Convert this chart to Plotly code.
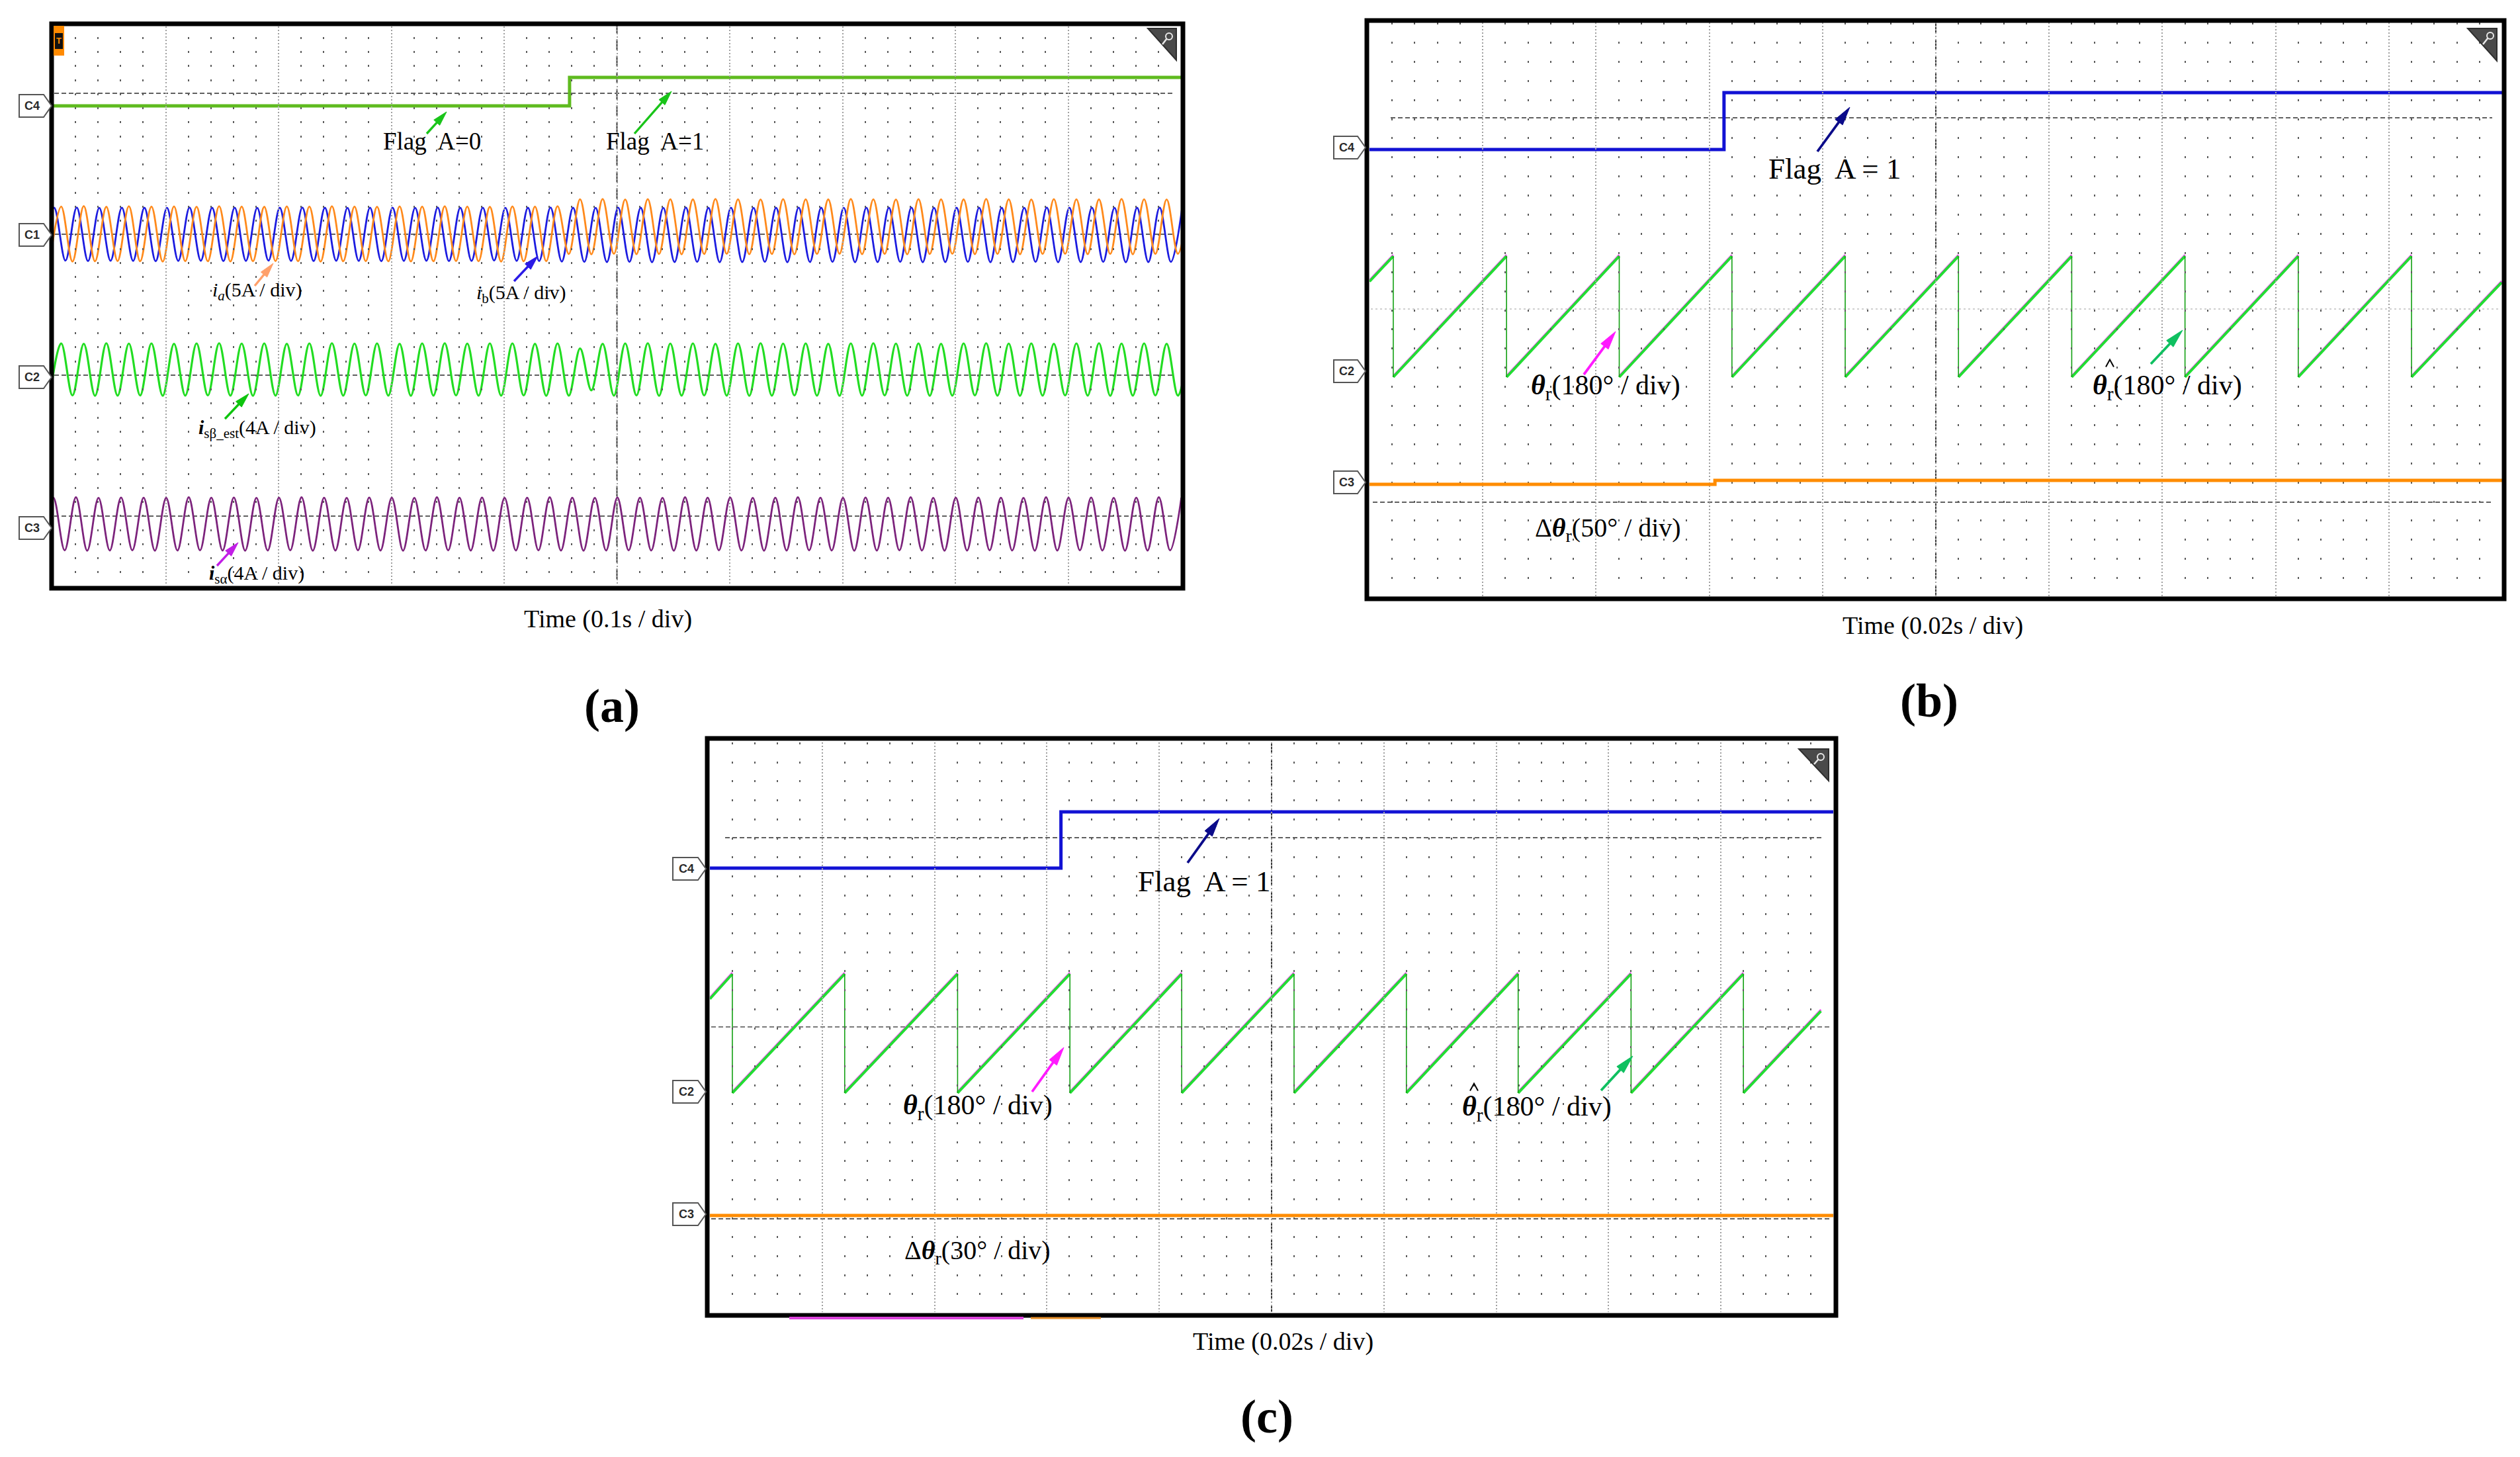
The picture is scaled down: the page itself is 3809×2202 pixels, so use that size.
import math
import plotly.graph_objects as go

W, H = 3809, 2202

# ======================= DATA =======================
# ---- Panel (a): time in seconds, 0.1 s/div ----
a_flag_t = [0.0, 0.458, 1.0]          # Flag A (C4), step 0 -> 1
a_flag_v = [0, 1, 1]

# successive extremum values (trough, peak, ...) of each 50 Hz current, one every 0.01 s
a_ia_t0 = -0.00267                    # C1 orange, i_a (A)
a_ia_ext = [
    -1.88, 2.02, -1.90, 2.05, -1.88, 2.00, -1.86, 2.04, -1.88, 2.02,
    -1.90, 2.03, -1.87, 2.01, -1.88, 2.04, -1.89, 2.02, -1.88, 2.00,
    -1.86, 2.03, -1.88, 2.02, -1.90, 2.04, -1.88, 2.02, -1.87, 2.01,
    -1.88, 2.03, -1.89, 2.02, -1.88, 2.04, -1.86, 2.02, -1.88, 2.00,
    -1.90, 2.03, -1.88, 2.02, -1.87, 2.04,
    -1.36, 2.54, -1.38, 2.56, -1.35, 2.52, -1.37, 2.55, -1.36, 2.54,
    -1.38, 2.53, -1.36, 2.56, -1.35, 2.54, -1.37, 2.52, -1.36, 2.55,
    -1.38, 2.54, -1.36, 2.53, -1.35, 2.56, -1.37, 2.54, -1.36, 2.52,
    -1.38, 2.55, -1.36, 2.54, -1.35, 2.53, -1.37, 2.56, -1.36, 2.54,
    -1.38, 2.52, -1.36, 2.55, -1.35, 2.54, -1.37, 2.53, -1.36, 2.56,
    -1.38, 2.54, -1.36, 2.52, -1.35, 2.55,
]
a_ib_t0 = -0.0089                     # C1 blue, i_b (A)
a_ib_ext = [
    -1.85, 1.93, -1.83, 1.95, -1.86, 1.92, -1.84, 1.94, -1.85, 1.93,
    -1.87, 1.92, -1.85, 1.95, -1.84, 1.93, -1.86, 1.94, -1.85, 1.92,
    -1.83, 1.93, -1.85, 1.95, -1.86, 1.93, -1.84, 1.92, -1.85, 1.94,
    -1.87, 1.93, -1.85, 1.92, -1.84, 1.95, -1.86, 1.93, -1.85, 1.94,
    -1.83, 1.92, -1.85, 1.93, -1.86, 1.95, -1.90, 1.93, -1.92, 1.92,
    -1.93, 1.94, -1.92, 1.93, -1.94, 1.92, -1.93, 1.95, -1.92, 1.93,
    -1.94, 1.94, -1.93, 1.92, -1.92, 1.93, -1.94, 1.95, -1.93, 1.93,
    -1.92, 1.92, -1.94, 1.94, -1.93, 1.93, -1.92, 1.95, -1.94, 1.92,
    -1.93, 1.93, -1.92, 1.94, -1.94, 1.93, -1.93, 1.92, -1.92, 1.95,
    -1.94, 1.93, -1.93, 1.94, -1.92, 1.92, -1.94, 1.93, -1.93, 1.95,
    -1.92, 1.93,
]
a_isb_t0 = -0.00267                   # C2 green, i_sbeta_est (A)
a_isb_ext = [
    -1.05, 1.92, -1.04, 1.90, -1.06, 1.93, -1.05, 1.91, -1.04, 1.92,
    -1.06, 1.90, -1.05, 1.92, -1.04, 1.93, -1.05, 1.91, -1.06, 1.92,
    -1.05, 1.90, -1.04, 1.92, -1.06, 1.93, -1.05, 1.91, -1.04, 1.92,
    -1.05, 1.90, -1.06, 1.92, -1.05, 1.93, -1.04, 1.91, -1.05, 1.92,
    -1.05, 1.92, -1.04, 1.90, -1.06, 1.92, -1.05, 1.63, -0.75, 1.90,
    -1.05, 1.92, -1.04, 1.93, -1.06, 1.91, -1.05, 1.92, -1.04, 1.90,
    -1.05, 1.92, -1.06, 1.93, -1.05, 1.91, -1.04, 1.92, -1.05, 1.90,
    -1.06, 1.92, -1.05, 1.93, -1.04, 1.91, -1.05, 1.92, -1.06, 1.90,
    -1.05, 1.92, -1.04, 1.93, -1.05, 1.91, -1.06, 1.92, -1.05, 1.90,
    -1.04, 1.92, -1.05, 1.93, -1.06, 1.91, -1.05, 1.92, -1.04, 1.90,
    -1.05, 1.92,
]
a_isa_t0 = -0.0096                    # C3 purple, i_salpha (A)
a_isa_ext = [
    -1.28, 1.73, -1.27, 1.75, -1.29, 1.72, -1.28, 1.74, -1.27, 1.73,
    -1.29, 1.72, -1.28, 1.75, -1.27, 1.73, -1.28, 1.74, -1.29, 1.72,
    -1.28, 1.73, -1.27, 1.75, -1.29, 1.73, -1.28, 1.72, -1.27, 1.74,
    -1.28, 1.73, -1.29, 1.72, -1.28, 1.75, -1.27, 1.73, -1.28, 1.74,
    -1.29, 1.72, -1.28, 1.73, -1.27, 1.75, -1.28, 1.73, -1.29, 1.72,
    -1.28, 1.74, -1.27, 1.73, -1.28, 1.72, -1.29, 1.75, -1.28, 1.73,
    -1.27, 1.74, -1.28, 1.72, -1.29, 1.73, -1.28, 1.75, -1.27, 1.73,
    -1.28, 1.72, -1.29, 1.74, -1.28, 1.73, -1.27, 1.75, -1.28, 1.72,
    -1.29, 1.73, -1.28, 1.74, -1.27, 1.73, -1.28, 1.72, -1.29, 1.75,
    -1.28, 1.73, -1.27, 1.74, -1.28, 1.72, -1.29, 1.73, -1.28, 1.75,
    -1.27, 1.73,
]
a_ext_dt = 0.01                       # s between successive extrema

# ---- Panel (b): time in seconds, 0.02 s/div ----
b_flag_t = [0.0, 0.0626, 0.2]
b_flag_v = [0, 1, 1]
b_resets = [0.0042, 0.0242, 0.0441, 0.0640, 0.0840, 0.1040, 0.1240, 0.1440, 0.1640, 0.1840]
b_end_t = 0.1999
b_est_top, b_est_bottom, b_est_start, b_est_end = 216.7, -11.2, 169.0, 167.0   # theta_hat (deg)
b_th_top, b_th_bottom, b_th_start, b_th_end = 219.0, -9.0, 171.5, 169.5        # theta (deg)
b_dth_t = [0.0, 0.061, 0.2]           # delta theta (deg)
b_dth_v = [-1.0, 1.0, 1.0]

# ---- Panel (c): time in seconds, 0.02 s/div ----
c_flag_t = [0.0, 0.0625, 0.2]
c_flag_v = [0, 1, 1]
c_resets = [0.0040, 0.0240, 0.0441, 0.0641, 0.0840, 0.1040, 0.1240, 0.1439, 0.1640, 0.1840]
c_end_t = 0.1978
c_est_top, c_est_bottom, c_est_start, c_est_end = 223.3, -2.5, 176.0, 153.0
c_th_top, c_th_bottom, c_th_start, c_th_end = 225.8, 0.0, 178.5, 155.5
c_dth_t = [0.0, 0.2]
c_dth_v = [-0.2, -0.2]

# ======================= LAYOUT GEOMETRY (pixels) =======================
PANELS = {
    'a': dict(s='', x0=80, x1=1785, y0=34.5, y1=884.5, ndiv=8, tdiv=0.1),
    'b': dict(s='2', x0=2070, x1=3782, y0=34, y1=901, ndiv=6, tdiv=0.02),
    'c': dict(s='3', x0=1073, x1=2771, y0=1122, y1=1983, ndiv=6, tdiv=0.02),
}
# channel: (panel, axis number, zero-level pixel, units per division)
CHANNELS = {
    'a4': ('a', 4, 160, 106.25 / 43.0),
    'a1': ('a', 5, 355, 5.0),
    'a2': ('a', 6, 570, 4.0),
    'a3': ('a', 7, 798, 4.0),
    'b4': ('b', 8, 226, 144.5 / 86.0),
    'b2': ('b', 9, 561, 180.0),
    'b3': ('b', 10, 729, 50.0),
    'c4': ('c', 11, 1312, 143.5 / 85.0),
    'c2': ('c', 12, 1650, 180.0),
    'c3': ('c', 13, 1836, 30.0),
}

SERIF = "Liberation Serif, Times New Roman, serif"
SANS = "Liberation Sans, Arial, sans-serif"


def px(x):
    return x / W


def py(y):
    return 1 - y / H


layout = dict(width=W, height=H, autosize=False, margin=dict(l=0, r=0, t=0, b=0),
              paper_bgcolor='white', plot_bgcolor='rgba(0,0,0,0)', showlegend=False)

for key, p in PANELS.items():
    s = p['s']
    divy = (p['y1'] - p['y0']) / p['ndiv']
    minor_gap = divy / 5.0 - 3
    layout['xaxis' + s] = dict(
        domain=[px(p['x0']), px(p['x1'])], range=[0, 10 * p['tdiv']], anchor='y' + s,
        showticklabels=False, ticks='', showline=False, zeroline=False, fixedrange=True,
        showgrid=True, tick0=0, dtick=p['tdiv'], gridcolor='#a0a0a0', gridwidth=1.5,
        griddash='2px,3px',
        minor=dict(tick0=0, dtick=p['tdiv'] / 5, showgrid=True, gridcolor='#5a5a5a',
                   gridwidth=2.2, griddash='3px,%.2fpx' % minor_gap))
    layout['yaxis' + s] = dict(
        domain=[py(p['y1']), py(p['y0'])], range=[0, p['ndiv']], anchor='x' + s,
        showticklabels=False, ticks='', showline=False, zeroline=False, fixedrange=True,
        showgrid=True, tick0=0, dtick=2, gridcolor='#858585', gridwidth=4)

for ck, (pk, num, zero, upd) in CHANNELS.items():
    p = PANELS[pk]
    divy = (p['y1'] - p['y0']) / p['ndiv']
    ppu = divy / upd
    lo = (zero - p['y1']) / ppu
    hi = (zero - p['y0']) / ppu
    layout['yaxis%d' % num] = dict(domain=[py(p['y1']), py(p['y0'])], range=[lo, hi],
                                   overlaying='y' + p['s'], anchor='x' + p['s'],
                                   visible=False, showgrid=False, zeroline=False, fixedrange=True)

fig = go.Figure()


def add(ch, **kw):
    pk, num, _, _ = CHANNELS[ch]
    fig.add_trace(go.Scatter(xaxis='x' + PANELS[pk]['s'], yaxis='y%d' % num, mode='lines',
                             hoverinfo='skip', showlegend=False, **kw))


def saw_ramps(resets, t_end, top, bottom, v_start, v_end):
    xs, ys = [0.0], [v_start]
    for r in resets:
        xs += [r, None, r]
        ys += [top, None, bottom]
    xs.append(t_end)
    ys.append(v_end)
    return xs, ys


def saw_drops(resets, top, bottom):
    xs, ys = [], []
    for r in resets:
        xs += [r, r, None]
        ys += [top, bottom, None]
    return xs, ys


# ---- panel (a) traces ----
add('a4', x=a_flag_t, y=a_flag_v, line=dict(color='#5fbb1f', width=5, shape='hv'))
add('a1', x0=a_ib_t0, dx=a_ext_dt, y=a_ib_ext, line=dict(color='#1c1ce0', width=2.8, shape='spline'))
add('a1', x0=a_ia_t0, dx=a_ext_dt, y=a_ia_ext, line=dict(color='#ff8a1c', width=2.8, shape='spline'))
add('a2', x0=a_isb_t0, dx=a_ext_dt, y=a_isb_ext, line=dict(color='#22dd22', width=3.2, shape='spline'))
add('a3', x0=a_isa_t0, dx=a_ext_dt, y=a_isa_ext, line=dict(color='#7c237c', width=2.8, shape='spline'))

# ---- panel (b) traces ----
add('b4', x=b_flag_t, y=b_flag_v, line=dict(color='#1212d4', width=5, shape='hv'))
xs, ys = saw_ramps(b_resets, b_end_t, b_th_top, b_th_bottom, b_th_start, b_th_end)
add('b2', x=xs, y=ys, line=dict(color='#ff40ff', width=3))
xs, ys = saw_ramps(b_resets, b_end_t, b_est_top, b_est_bottom, b_est_start, b_est_end)
add('b2', x=xs, y=ys, line=dict(color='#22dd33', width=4))
xs, ys = saw_drops(b_resets, b_est_top, b_est_bottom)
add('b2', x=xs, y=ys, line=dict(color='#12a012', width=1.6))
add('b3', x=b_dth_t, y=b_dth_v, line=dict(color='#ff8c00', width=5, shape='hv'))

# ---- panel (c) traces ----
add('c4', x=c_flag_t, y=c_flag_v, line=dict(color='#1212d4', width=5, shape='hv'))
xs, ys = saw_ramps(c_resets, c_end_t, c_th_top, c_th_bottom, c_th_start, c_th_end)
add('c2', x=xs, y=ys, line=dict(color='#ff40ff', width=3))
xs, ys = saw_ramps(c_resets, c_end_t, c_est_top, c_est_bottom, c_est_start, c_est_end)
add('c2', x=xs, y=ys, line=dict(color='#22dd33', width=4))
xs, ys = saw_drops(c_resets, c_est_top, c_est_bottom)
add('c2', x=xs, y=ys, line=dict(color='#12a012', width=1.6))
add('c3', x=c_dth_t, y=c_dth_v, line=dict(color='#ff8c00', width=5, shape='hv'))

# ======================= SHAPES =======================
shapes = []


def hline(y, xa, xb, color, width, dash='solid', layer='below'):
    shapes.append(dict(type='line', xref='paper', yref='paper', x0=px(xa), x1=px(xb),
                       y0=py(y), y1=py(y), line=dict(color=color, width=width, dash=dash), layer=layer))


def vline(x, ya, yb, color, width, dash='solid', layer='below'):
    shapes.append(dict(type='line', xref='paper', yref='paper', x0=px(x), x1=px(x),
                       y0=py(ya), y1=py(yb), line=dict(color=color, width=width, dash=dash), layer=layer))


def path(pts, close=True):
    s = 'M ' + ' L '.join('%.6f,%.6f' % (px(x), py(y)) for x, y in pts)
    return s + (' Z' if close else '')


# cursor (centre) long-dash lines
for p in PANELS.values():
    xc = p['x0'] + (p['x1'] - p['x0']) / 2
    vline(xc, p['y0'], p['y1'], '#3a3a3a', 2, '16px,9px')

# channel reference dashed lines
for y in (141, 354, 567, 780):
    hline(y, 82, 1773, '#606060', 2.2, '7px,4px')
hline(178, 2102, 3767, '#606060', 2.2, '7px,4px')
hline(467, 2072, 3780, '#cfcfcf', 2, '3px,4px')
hline(759, 2075, 3767, '#606060', 2.2, '7px,4px')
hline(1266, 1096, 2757, '#606060', 2.2, '7px,4px')
hline(1552, 1075, 2769, '#7a7a7a', 2.2, '7px,4px')
hline(1842, 1075, 2769, '#606060', 2.2, '7px,4px')

# frames
for (xa, ya, xb, yb) in ((78, 36, 1788, 889), (2066, 31, 3785, 905), (1069, 1116, 2775, 1988)):
    shapes.append(dict(type='rect', xref='paper', yref='paper', x0=px(xa), x1=px(xb),
                       y0=py(yb), y1=py(ya), line=dict(color='black', width=7), layer='above'))

# bottom colored bars of panel (c)
hline(1992, 1193, 1547, '#dd44dd', 4, layer='above')
hline(1992, 1558, 1664, '#e8902a', 3, layer='above')

# channel tags
TAGS = [('C4', 29, 78, 160), ('C1', 29, 78, 355), ('C2', 29, 78, 570), ('C3', 29, 78, 798),
        ('C4', 2016, 2064, 223), ('C2', 2016, 2064, 561), ('C3', 2016, 2064, 729),
        ('C4', 1017, 1067, 1313), ('C2', 1017, 1067, 1650), ('C3', 1017, 1067, 1835)]
annotations = []
for name, xl, xr, yc in TAGS:
    h = 34
    pts = [(xl, yc - h / 2), (xr - 12, yc - h / 2), (xr, yc), (xr - 12, yc + h / 2), (xl, yc + h / 2)]
    shapes.append(dict(type='path', xref='paper', yref='paper', path=path(pts),
                       line=dict(color='#555555', width=2), fillcolor='white', layer='above'))
    annotations.append(dict(x=px((xl + xr - 12) / 2 + 1), y=py(yc), xref='paper', yref='paper',
                            text='<b>%s</b>' % name, showarrow=False,
                            font=dict(family=SANS, size=18, color='#2a2a2a'),
                            xanchor='center', yanchor='middle'))

# magnifier icons
for (xa, ya, xb, yb, cx, cy, hx, hy) in ((1735, 43, 1778, 91, 1767, 55, 1757, 67),
                                         (3730, 43, 3774, 92, 3764, 54, 3753, 67),
                                         (2719, 1132, 2764, 1180, 2752, 1144, 2742, 1155)):
    shapes.append(dict(type='path', xref='paper', yref='paper',
                       path=path([(xa, ya), (xb, ya), (xb, yb)]),
                       line=dict(color='#2e2e2e', width=2), fillcolor='#4a4a4a', layer='above'))
    shapes.append(dict(type='circle', xref='paper', yref='paper', x0=px(cx - 5), x1=px(cx + 5),
                       y0=py(cy + 5), y1=py(cy - 5), line=dict(color='#e8e8e8', width=2), layer='above'))
    shapes.append(dict(type='line', xref='paper', yref='paper', x0=px(cx - 3.5), x1=px(hx),
                       y0=py(cy + 3.5), y1=py(hy), line=dict(color='#e8e8e8', width=2.5), layer='above'))

# trigger tag in panel (a)
shapes.append(dict(type='rect', xref='paper', yref='paper', x0=px(81), x1=px(97), y0=py(84), y1=py(39),
                   line=dict(width=0), fillcolor='#ff8a00', layer='above'))
shapes.append(dict(type='rect', xref='paper', yref='paper', x0=px(83), x1=px(95), y0=py(74), y1=py(50),
                   line=dict(width=0), fillcolor='#111111', layer='above'))
annotations.append(dict(x=px(89), y=py(62), xref='paper', yref='paper', text='<b>T</b>', showarrow=False,
                        font=dict(family=SANS, size=13, color='#ff8a00'), xanchor='center', yanchor='middle'))


# ======================= TEXT LABELS & ARROWS =======================
def label(x, y, text, size):
    annotations.append(dict(x=px(x), y=py(y), xref='paper', yref='paper', text=text, showarrow=False,
                            font=dict(family=SERIF, size=size, color='black'),
                            xanchor='center', yanchor='middle'))


def arrow(tail, tip, color, width=3.8, head_len=24, head_w=13):
    dx, dy = tip[0] - tail[0], tip[1] - tail[1]
    L = math.hypot(dx, dy)
    ux, uy = dx / L, dy / L
    nx, ny = -uy, ux
    bx, by = tip[0] - ux * head_len, tip[1] - uy * head_len
    shapes.append(dict(type='line', xref='paper', yref='paper', x0=px(tail[0]), y0=py(tail[1]),
                       x1=px(bx + ux * 3), y1=py(by + uy * 3),
                       line=dict(color=color, width=width), layer='above'))
    tri = [tip, (bx + nx * head_w / 2, by + ny * head_w / 2), (bx - nx * head_w / 2, by - ny * head_w / 2)]
    shapes.append(dict(type='path', xref='paper', yref='paper', path=path(tri),
                       line=dict(color=color, width=1), fillcolor=color, layer='above'))


def hat(xc, yc, w=12, h=11):
    shapes.append(dict(type='path', xref='paper', yref='paper',
                       path=path([(xc - w / 2, yc + h / 2), (xc, yc - h / 2), (xc + w / 2, yc + h / 2)],
                                 close=False),
                       line=dict(color='black', width=2), layer='above'))


TH = '<b><i>θ</i></b><sub>r</sub>'

# panel (a)
label(653, 214, 'Flag\u00a0 A=0', 37)
label(990, 214, 'Flag\u00a0 A=1', 37)
label(389, 440, '<i>i</i><sub><i>a</i></sub>(5A / div)', 30)
label(788, 444, '<i>i</i><sub>b</sub>(5A / div)', 30)
label(389, 648, '<b><i>i</i></b><sub>sβ_est</sub>(4A / div)', 30)
label(388, 868, '<b><i>i</i></b><sub>sα</sub>(4A / div)', 30)
label(919, 935, 'Time (0.1s / div)', 38)
label(925, 1067, '<b>(a)</b>', 72)
arrow((645, 202), (675, 169), '#19c419', 3.4, 22, 12)
arrow((959, 202), (1015, 138), '#19c419', 3.4, 22, 12)
arrow((385, 432), (413, 398), '#ffa06a', 3.4, 22, 12)
arrow((777, 425), (813, 387), '#2b1ae6', 3.4, 22, 12)
arrow((340, 633), (376, 595), '#0ec40e', 3.4, 22, 12)
arrow((328, 855), (360, 820), '#c21ee6', 3.4, 22, 12)

# panel (b)
label(2773, 255, 'Flag\u00a0 A = 1', 45)
label(2427, 585, TH + '(180° / div)', 42)
label(3276, 585, TH + '(180° / div)', 42)
hat(3189, 549)
label(2430, 800, 'Δ' + TH + '(50° / div)', 40)
label(2921, 945, 'Time (0.02s / div)', 38)
label(2916, 1059, '<b>(b)</b>', 72)
arrow((2747, 229), (2796, 162), '#0b0b8a', 3.8, 28, 14)
arrow((2394, 566), (2442, 501), '#ff1aff', 3.8, 28, 14)
arrow((3251, 550), (3299, 499), '#0fc060', 3.8, 28, 14)

# panel (c)
label(1820, 1332, 'Flag\u00a0 A = 1', 45)
label(1478, 1673, TH + '(180° / div)', 42)
label(2323, 1675, TH + '(180° / div)', 42)
hat(2228, 1643)
label(1477, 1892, 'Δ' + TH + '(30° / div)', 40)
label(1939, 2027, 'Time (0.02s / div)', 38)
label(1915, 2141, '<b>(c)</b>', 72)
arrow((1795, 1304), (1843, 1237), '#0b0b8a', 3.8, 28, 14)
arrow((1560, 1650), (1608, 1583), '#ff1aff', 3.8, 28, 14)
arrow((2420, 1648), (2468, 1596), '#0fc060', 3.8, 28, 14)

layout['shapes'] = shapes
layout['annotations'] = annotations
fig.update_layout(**layout)

fig.write_html("out.html", config={'displayModeBar': False},
               post_script="document.body.style.margin='0';document.body.style.overflow='hidden';")
